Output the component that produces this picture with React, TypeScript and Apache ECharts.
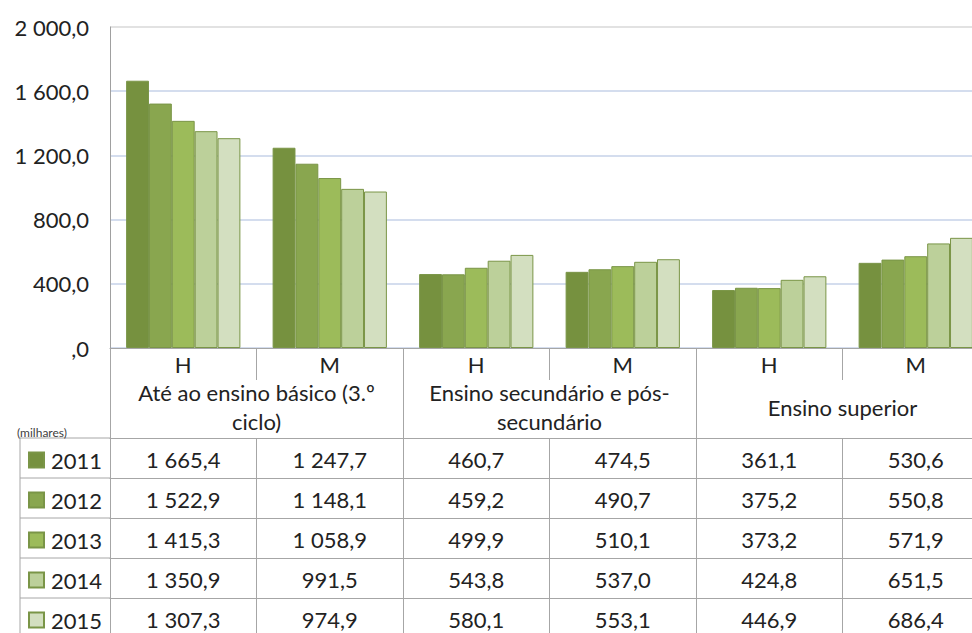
import React, { useEffect, useRef } from "react";
import * as echarts from "echarts";

const categories = ["H", "M", "H", "M", "H", "M"];
const groups = [
  "Até ao ensino básico (3.º\nciclo)",
  "Ensino secundário e pós-\nsecundário",
  "Ensino superior",
];
const years = ["2011", "2012", "2013", "2014", "2015"];
const v2011 = [1665.4, 1247.7, 460.7, 474.5, 361.1, 530.6];
const v2012 = [1522.9, 1148.1, 459.2, 490.7, 375.2, 550.8];
const v2013 = [1415.3, 1058.9, 499.9, 510.1, 373.2, 571.9];
const v2014 = [1350.9, 991.5, 543.8, 537.0, 424.8, 651.5];
const v2015 = [1307.3, 974.9, 580.1, 553.1, 446.9, 686.4];
const seriesValues = [v2011, v2012, v2013, v2014, v2015];
const unitLabel = "(milhares)";

const colors = ["#76913f", "#89a64f", "#9cbb5a", "#bcd09a", "#d3dfc0"];
const FONT = "Lato, 'Open Sans', sans-serif";
const TXT = "#222222";
const LINE = "#a6a6a6";

function fmt(v: number): string {
  const [i, d] = v.toFixed(1).split(".");
  const ii = i === "0" ? "" : i.replace(/\B(?=(\d{3})+(?!\d))/g, " ");
  return ii + "," + d;
}

// layout
const GL = 110;
const GT = 27;
const GW = 879;
const GH = 321;
const AXIS_Y = GT + GH;
const TABLE_TOP = 90; // offset below axis
const ROW_H = 40;
const TABLE_LEFT = 20;

export default function App() {
  const ref = useRef<HTMLDivElement>(null);
  useEffect(() => {
    if (!ref.current) return;
    const chart = echarts.init(ref.current, null, { renderer: "svg" });

    const rowAxes = seriesValues.map((vals, r) => ({
      type: "category",
      data: vals.map(fmt),
      position: "bottom",
      offset: TABLE_TOP + r * ROW_H,
      axisLine: { show: true, lineStyle: { color: LINE, width: 1 } },
      axisTick: { show: true, interval: 0, length: ROW_H, lineStyle: { color: LINE } },
      axisLabel: {
        interval: 0,
        margin: ROW_H / 2 + 1,
        verticalAlign: "middle",
        fontSize: 22,
        fontFamily: FONT,
        color: TXT,
      },
      splitLine: { show: false },
    }));

    const graphics: any[] = [];
    for (let r = 0; r <= seriesValues.length; r++) {
      const y = AXIS_Y + TABLE_TOP + r * ROW_H;
      graphics.push({
        type: "line",
        shape: { x1: TABLE_LEFT, y1: y, x2: GL, y2: y },
        style: { stroke: LINE, lineWidth: 1 },
      });
    }
    graphics.push({
      type: "line",
      shape: { x1: TABLE_LEFT, y1: AXIS_Y + TABLE_TOP, x2: TABLE_LEFT, y2: 640 },
      style: { stroke: LINE, lineWidth: 1 },
    });
    graphics.push({
      type: "text",
      left: 17,
      top: AXIS_Y + TABLE_TOP - 12,
      style: { text: unitLabel, fontSize: 12, fontFamily: FONT, fill: "#404040" },
      z: 10,
    });

    const legends = years.map((y, i) => ({
      orient: "vertical",
      left: 28,
      top: AXIS_Y + TABLE_TOP + i * ROW_H + 11,
      padding: 0,
      itemWidth: 15,
      itemHeight: 15,
      selectedMode: false,
      icon: "rect",
      data: [y],
      textStyle: { fontSize: 22, lineHeight: 22, fontFamily: FONT, color: TXT, padding: [0, 0, 0, 2] },
    }));

    chart.setOption({
      animation: false,
      backgroundColor: "#ffffff",
      grid: {
        left: GL,
        top: GT,
        width: GW,
        height: GH,
        containLabel: false,
        outerBoundsMode: "none",
      },
      legend: legends,
      xAxis: [
        {
          type: "category",
          data: categories,
          position: "bottom",
          axisLine: { show: true, lineStyle: { color: LINE, width: 1 } },
          axisTick: { show: true, interval: 0, length: 32, lineStyle: { color: LINE } },
          axisLabel: {
            interval: 0,
            margin: 16,
            verticalAlign: "middle",
            fontSize: 22,
            fontFamily: FONT,
            color: TXT,
          },
        },
        {
          type: "category",
          data: groups,
          position: "bottom",
          axisLine: { show: false },
          axisTick: { show: true, interval: 0, length: TABLE_TOP, lineStyle: { color: LINE } },
          axisLabel: {
            interval: 0,
            margin: 59,
            verticalAlign: "middle",
            lineHeight: 29,
            fontSize: 22,
            fontFamily: FONT,
            color: TXT,
          },
        },
        ...rowAxes,
      ],
      yAxis: {
        type: "value",
        min: 0,
        max: 2000,
        interval: 400,
        axisLine: { show: true, lineStyle: { color: "#a0a0a0", width: 1 } },
        axisTick: { show: false },
        axisLabel: {
          margin: 21,
          fontSize: 22,
          fontFamily: FONT,
          color: TXT,
          formatter: (v: number) => fmt(v),
        },
        splitLine: {
          show: true,
          lineStyle: {
            color: ["#c6d2e8", "#c6d2e8", "#c6d2e8", "#c6d2e8", "#c6d2e8", "#d9d9d9"],
            width: 1.5,
          },
        },
      },
      series: seriesValues.map((vals, i) => ({
        name: years[i],
        type: "bar",
        xAxisIndex: 0,
        data: vals,
        barGap: "0%",
        barCategoryGap: "22%",
        itemStyle: { color: colors[i], borderColor: "#7a9547", borderWidth: 1 },
      })),
      graphic: graphics,
    });
    return () => chart.dispose();
  }, []);
  return (
    <div
      ref={ref}
      style={{ position: "absolute", left: 0, top: 0, width: 972, height: 633, background: "#fff" }}
    />
  );
}
